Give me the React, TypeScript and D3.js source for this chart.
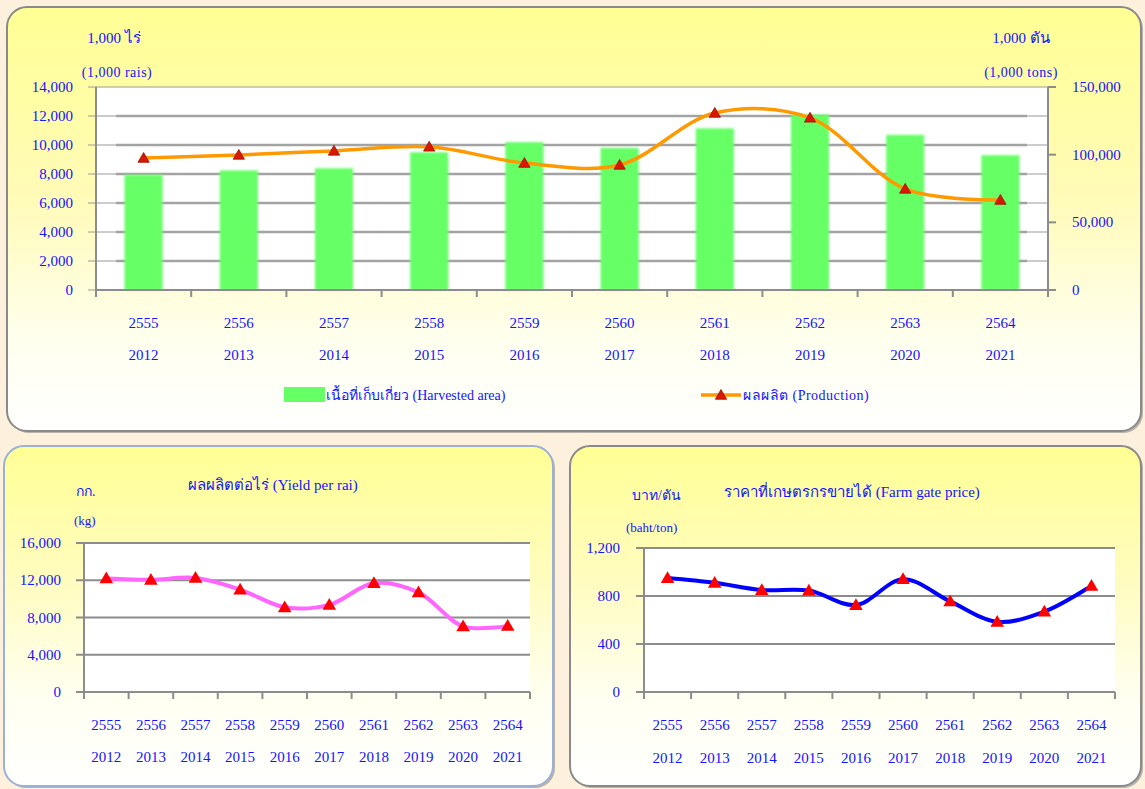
import React from "react";
import * as d3 from "d3";

const yearsBE = ["2555", "2556", "2557", "2558", "2559", "2560", "2561", "2562", "2563", "2564"];
const yearsAD = ["2012", "2013", "2014", "2015", "2016", "2017", "2018", "2019", "2020", "2021"];
const harvestedArea = [7950, 8250, 8400, 9500, 10200, 9800, 11150, 12100, 10700, 9300];
const production = [97500, 99800, 102800, 105800, 93800, 92400, 130800, 127200, 74700, 66500];
const yieldPerRai = [12200, 12050, 12250, 11000, 9100, 9350, 11700, 10700, 7050, 7100];
const farmGatePrice = [950, 910, 850, 845, 725, 940, 755, 585, 670, 885];
const areaTicks = [0, 2000, 4000, 6000, 8000, 10000, 12000, 14000];
const prodTicks = [0, 50000, 100000, 150000];
const yieldTicks = [0, 4000, 8000, 12000, 16000];
const priceTicks = [0, 400, 800, 1200];

const BLUE = "#1414ff";
const SERIF = "'Liberation Serif', 'DejaVu Serif', 'Noto Sans', serif";
const fmt = d3.format(",");

function tri(size: number) {
  return d3.symbol().type(d3.symbolTriangle).size(size)() as string;
}

function Panel({ x, y, w, h, id, stroke }: any) {
  return (
    <g>
      <rect x={x + 2} y={y + 2} width={w} height={h} rx={20} fill="#8a8a8a" opacity={0.6} />
      <rect x={x} y={y} width={w} height={h} rx={20} fill={`url(#${id})`} stroke={stroke} strokeWidth={2} />
    </g>
  );
}

function CatAxis({ x, y0, labelsY1, labelsY2 }: any) {
  const domain = x.domain();
  const bw = x.bandwidth();
  const [r0, r1] = x.range();
  return (
    <g>
      <line x1={r0} x2={r1} y1={y0} y2={y0} stroke="#8c8c8c" strokeWidth={2} />
      {domain.map((d: string) => (
        <line key={"t" + d} x1={x(d)} x2={x(d)} y1={y0} y2={y0 + 7} stroke="#8c8c8c" strokeWidth={2} />
      ))}
      <line x1={r1} x2={r1} y1={y0} y2={y0 + 7} stroke="#8c8c8c" strokeWidth={2} />
      {domain.map((d: string, i: number) => (
        <g key={"l" + d}>
          <text x={x(d) + bw / 2} y={labelsY1} textAnchor="middle" dominantBaseline="central" fill={BLUE} fontSize={15} fontFamily={SERIF}>{d}</text>
          <text x={x(d) + bw / 2} y={labelsY2} textAnchor="middle" dominantBaseline="central" fill={BLUE} fontSize={15} fontFamily={SERIF}>{yearsAD[i]}</text>
        </g>
      ))}
    </g>
  );
}

function LineChart({ left, right, top, bottom, values, ticks, color, labelX, lab1Y, lab2Y }: any) {
  const x = d3.scaleBand<string>().domain(yearsBE).range([left, right]);
  const y = d3.scaleLinear().domain([0, ticks[ticks.length - 1]]).range([bottom, top]);
  const line = d3
    .line<number>()
    .x((_, i) => (x(yearsBE[i]) as number) + x.bandwidth() / 2)
    .y((v) => y(v))
    .curve(d3.curveCatmullRom.alpha(0.5));
  return (
    <g>
      <rect x={left} y={top} width={right - left} height={bottom - top} fill="#ffffff" />
      {ticks.map((t: number) => (
        <g key={t}>
          <line x1={left - 8} x2={right} y1={y(t)} y2={y(t)} stroke="#8c8c8c" strokeWidth={2} />
          <text x={labelX} y={y(t)} textAnchor="end" dominantBaseline="central" fill={BLUE} fontSize={15} fontFamily={SERIF}>{fmt(t)}</text>
        </g>
      ))}
      <line x1={left} x2={left} y1={top} y2={bottom} stroke="#8c8c8c" strokeWidth={2} />
      <CatAxis x={x} y0={bottom} labelsY1={lab1Y} labelsY2={lab2Y} />
      <path d={line(values) as string} fill="none" stroke={color} strokeWidth={4} strokeLinecap="round" />
      {values.map((v: number, i: number) => (
        <path key={i} d={tri(80)} transform={`translate(${(x(yearsBE[i]) as number) + x.bandwidth() / 2},${y(v) + 1})`} fill="#ff0000" />
      ))}
    </g>
  );
}

export default function App() {
  // Top chart
  const L = 96, R = 1048, T = 87, B = 290;
  const x = d3.scaleBand<string>().domain(yearsBE).range([L, R]);
  const yL = d3.scaleLinear().domain([0, 14000]).range([B, T]);
  const yR = d3.scaleLinear().domain([0, 150000]).range([B, T]);
  const cx = (i: number) => (x(yearsBE[i]) as number) + x.bandwidth() / 2;
  const barW = x.bandwidth() * 0.4;
  const prodLine = d3
    .line<number>()
    .x((_, i) => cx(i))
    .y((v) => yR(v))
    .curve(d3.curveCatmullRom.alpha(0.5));

  return (
    <div style={{ position: "fixed", left: 0, top: 0, width: 1145, height: 789, background: "#fdf1dd" }}>
      <svg width={1145} height={789} viewBox="0 0 1145 789">
        <defs>
          <linearGradient id="gTop" x1="0" y1="0" x2="0" y2="1">
            <stop offset="0%" stopColor="#ffff94" />
            <stop offset="45%" stopColor="#fffbb8" />
            <stop offset="80%" stopColor="#fffff0" />
            <stop offset="100%" stopColor="#ffffff" />
          </linearGradient>
          <linearGradient id="gBot" x1="0" y1="0" x2="0" y2="1">
            <stop offset="0%" stopColor="#ffff94" />
            <stop offset="40%" stopColor="#fffcc0" />
            <stop offset="75%" stopColor="#fffff2" />
            <stop offset="100%" stopColor="#ffffff" />
          </linearGradient>
          <filter id="blur1" x="-10%" y="-10%" width="120%" height="120%">
            <feGaussianBlur stdDeviation="1" />
          </filter>
        </defs>

        <Panel x={7} y={7} w={1134} h={424} id="gTop" stroke="#8a8a8a" />
        <Panel x={4} y={446} w={549} h={340} id="gBot" stroke="#9ab0d6" />
        <Panel x={570} y={446} w={571} h={340} id="gBot" stroke="#8a8a8a" />

        {/* Top chart */}
        <rect x={L} y={T} width={R - L} height={B - T} fill="#ffffff" />
        {areaTicks.map((t) => (
          <g key={t}>
            <line x1={L - 8} x2={R} y1={yL(t)} y2={yL(t)} stroke="#9a9a9a" strokeWidth={1} />
            {t > 0 && t < 14000 && (
              <line x1={116} x2={1027} y1={yL(t)} y2={yL(t)} stroke="#a3a3a3" strokeWidth={2.5} />
            )}
            <text x={73} y={yL(t)} textAnchor="end" dominantBaseline="central" fill={BLUE} fontSize={15} fontFamily={SERIF}>{fmt(t)}</text>
          </g>
        ))}
        <line x1={L} x2={L} y1={T} y2={B} stroke="#8c8c8c" strokeWidth={2} />
        <line x1={R} x2={R} y1={T} y2={B + 7} stroke="#8c8c8c" strokeWidth={2} />
        {prodTicks.map((t) => (
          <g key={t}>
            <line x1={R} x2={R + 8} y1={yR(t)} y2={yR(t)} stroke="#8c8c8c" strokeWidth={2} />
            <text x={1072} y={yR(t)} textAnchor="start" dominantBaseline="central" fill={BLUE} fontSize={15} fontFamily={SERIF}>{fmt(t)}</text>
          </g>
        ))}
        <g filter="url(#blur1)">
          {harvestedArea.map((v, i) => (
            <rect key={i} x={cx(i) - barW / 2} y={yL(v)} width={barW} height={B - yL(v)} fill="#66ff66" />
          ))}
        </g>
        <CatAxis x={x} y0={B} labelsY1={323} labelsY2={355} />
        <path d={prodLine(production) as string} fill="none" stroke="#ff9900" strokeWidth={3.5} />
        {production.map((v, i) => (
          <path key={i} d={tri(55)} transform={`translate(${cx(i)},${yR(v) + 1})`} fill="#d81800" stroke="#a01000" strokeWidth={0.8} />
        ))}
        <text x={114} y={38} textAnchor="middle" dominantBaseline="central" fill={BLUE} fontSize={15} fontFamily={SERIF}>1,000 ไร่</text>
        <text x={117} y={72} textAnchor="middle" dominantBaseline="central" fill={BLUE} fontSize={14} fontFamily={SERIF} letterSpacing={0.5}>(1,000 rais)</text>
        <text x={1021} y={38} textAnchor="middle" dominantBaseline="central" fill={BLUE} fontSize={15} fontFamily={SERIF}>1,000 ตัน</text>
        <text x={1021} y={72} textAnchor="middle" dominantBaseline="central" fill={BLUE} fontSize={14} fontFamily={SERIF} letterSpacing={0.5}>(1,000  tons)</text>

        {/* Legend */}
        <rect x={284} y={387} width={41} height={15} fill="#66ff66" />
        <text x={326} y={395} dominantBaseline="central" fill={BLUE} fontSize={14} fontFamily={SERIF}>เนื้อที่เก็บเกี่ยว (Harvested area)</text>
        <line x1={701} x2={741} y1={395} y2={395} stroke="#ff9900" strokeWidth={3.5} />
        <path d={tri(55)} transform="translate(721,396)" fill="#d81800" stroke="#a01000" strokeWidth={0.8} />
        <text x={743} y={395} dominantBaseline="central" fill={BLUE} fontSize={14} fontFamily={SERIF} letterSpacing={0.5}>ผลผลิต  (Production)</text>

        {/* Bottom-left: yield */}
        <LineChart left={84} right={530} top={543} bottom={692} values={yieldPerRai} ticks={yieldTicks} color="#ff66ff" labelX={61} lab1Y={725} lab2Y={757} />
        <text x={188} y={485} dominantBaseline="central" fill={BLUE} fontSize={15} fontFamily={SERIF}>ผลผลิตต่อไร่ (Yield per rai)</text>
        <text x={76} y={491} dominantBaseline="central" fill={BLUE} fontSize={14} fontFamily={SERIF}>กก.</text>
        <text x={74} y={520} dominantBaseline="central" fill={BLUE} fontSize={13} fontFamily={SERIF}>(kg)</text>

        {/* Bottom-right: price */}
        <LineChart left={644} right={1115} top={548} bottom={692} values={farmGatePrice} ticks={priceTicks} color="#0000ff" labelX={620} lab1Y={725} lab2Y={758} />
        <text x={724} y={492} dominantBaseline="central" fill={BLUE} fontSize={15} fontFamily={SERIF}>ราคาที่เกษตรกรขายได้  (Farm gate price)</text>
        <text x={632} y={495} dominantBaseline="central" fill={BLUE} fontSize={14} fontFamily={SERIF}>บาท/ตัน</text>
        <text x={626} y={527} dominantBaseline="central" fill={BLUE} fontSize={13} fontFamily={SERIF}>(baht/ton)</text>
      </svg>
    </div>
  );
}
